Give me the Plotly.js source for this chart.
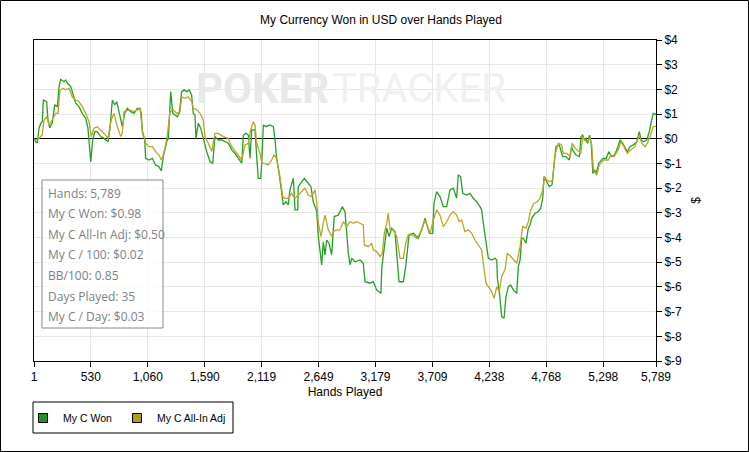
<!DOCTYPE html>
<html>
<head>
<meta charset="utf-8">
<script src="https://cdn.plot.ly/plotly-3.0.1.min.js"></script>
<style>html,body{margin:0;padding:0;background:#fff;}#chart{width:749px;height:452px;}</style>
</head>
<body>
<div id="chart"></div>
<script>
// ---- data ----
const handsWon = [1,17,32,48,66,78,88,119,131,147,171,194,218,234,249,280,296,311,343,367,389,420,450,482,503,529,547,566,590,622,652,690,708,730,752,771,792,808,823,845,869,901,932,962,987,999,1009,1031,1040,1071,1102,1133,1164,1186,1204,1236,1251,1273,1292,1313,1334,1353,1375,1397,1422,1446,1468,1483,1499,1508,1530,1552,1576,1608,1639,1664,1685,1716,1748,1778,1809,1841,1871,1902,1934,1949,1974,1995,2011,2027,2058,2073,2088,2111,2120,2135,2160,2197,2228,2244,2259,2284,2306,2321,2346,2367,2383,2414,2430,2455,2460,2516,2553,2578,2600,2632,2647,2662,2678,2693,2709,2725,2746,2771,2795,2833,2870,2895,2911,2926,2942,2957,2988,3035,3065,3081,3128,3158,3190,3230,3237,3267,3283,3305,3330,3360,3376,3398,3438,3460,3491,3531,3577,3609,3640,3680,3711,3723,3748,3779,3810,3841,3872,3903,3934,3949,3971,3990,4027,4058,4089,4120,4151,4167,4182,4198,4214,4229,4261,4291,4307,4313,4331,4338,4353,4375,4393,4415,4437,4461,4493,4508,4524,4539,4554,4579,4601,4617,4632,4663,4694,4716,4735,4747,4765,4796,4821,4842,4858,4889,4905,4920,4952,4982,5004,5013,5045,5076,5092,5107,5123,5139,5154,5170,5186,5201,5217,5233,5257,5295,5326,5350,5373,5404,5435,5454,5479,5500,5522,5547,5578,5609,5634,5650,5671,5703,5727,5749,5764,5789];
const wonUSD = [0,-0.12,-0.17,0.44,0.64,0.69,1.57,1.50,0.76,0.44,0.64,1.37,1.30,2.11,2.41,2.31,2.38,2.25,2.11,1.77,1.44,1.30,1.03,0.83,0.43,-0.93,-0.05,0.29,0.29,0.09,0.02,-0.12,0.43,1.57,1.37,1.50,1.10,0.89,0.49,1.03,1.23,1.10,1.03,1.23,1.23,1.03,0.29,-0.05,-0.79,-0.86,-0.79,-1.06,-1.13,-1.30,-0.72,-0.12,0.02,1.91,1.03,0.96,0.89,1.03,1.91,1.98,1.91,1.98,1.77,1.03,0.96,0.02,0.63,0.43,0.02,-0.52,-0.93,-0.99,0.09,-0.05,-0.05,-0.12,-0.18,-0.45,-0.59,-0.79,-0.99,0.15,0.22,0.15,-0.79,0.36,0.36,-0.72,-1.60,-1.60,-0.99,0.56,0.49,0.56,0.49,-0.05,-0.79,-1.47,-2.21,-2.68,-2.55,-2.68,-2.07,-1.60,-2.88,-2.88,-1.94,-1.60,-1.80,-1.94,-2.55,-2.95,-3.96,-4.64,-5.11,-4.17,-4.70,-4.10,-4.23,-4.70,-3.15,-3.09,-2.75,-2.95,-3.83,-4.64,-5.11,-4.84,-4.98,-4.91,-5.04,-5.79,-5.85,-5.79,-6.12,-6.26,-5.24,-4.23,-3.62,-3.96,-3.62,-3.76,-4.77,-5.79,-5.79,-5.18,-3.89,-3.83,-4.03,-3.69,-3.22,-3.83,-3.83,-2.61,-2.14,-2.34,-2.75,-2.75,-2.07,-2.00,-2.41,-1.47,-1.53,-2.21,-2.28,-2.21,-2.41,-2.55,-2.75,-2.88,-3.42,-3.96,-4.50,-4.84,-4.91,-4.84,-4.91,-5.65,-6.19,-6.53,-7.20,-7.27,-6.39,-5.99,-5.92,-6.12,-6.26,-5.18,-4.91,-4.03,-4.03,-4.23,-3.62,-3.49,-3.22,-3.02,-2.95,-2.81,-2.41,-1.53,-1.70,-1.94,-1.87,-0.86,-0.32,-0.25,-0.45,-0.72,-0.72,-0.86,-0.32,-0.45,-0.66,-0.72,0.09,0.15,-0.05,0.02,-0.18,0.15,-0.18,-1.40,-1.26,-1.40,-0.99,-0.79,-0.79,-0.52,-0.72,-0.66,-0.32,-0.05,-0.18,-0.32,-0.52,-0.32,-0.25,-0.12,0.29,-0.05,-0.12,-0.05,0.29,0.76,1.03,0.98];
const handsAdj = [1,17,48,78,94,119,141,171,203,224,243,274,296,327,357,389,420,450,482,513,534,559,590,622,652,690,720,745,776,808,823,838,885,932,962,987,1009,1040,1071,1102,1133,1164,1186,1204,1236,1267,1297,1329,1360,1375,1406,1437,1468,1483,1515,1546,1576,1592,1623,1655,1685,1716,1763,1809,1841,1887,1934,1964,1995,2017,2042,2058,2073,2104,2120,2141,2181,2213,2234,2259,2290,2315,2337,2367,2399,2430,2460,2492,2523,2553,2585,2616,2632,2647,2672,2693,2709,2740,2771,2786,2818,2848,2879,2911,2942,2972,3004,3035,3065,3075,3112,3143,3158,3190,3221,3242,3261,3283,3298,3314,3345,3376,3407,3438,3460,3484,3516,3562,3593,3624,3640,3686,3717,3748,3779,3810,3841,3872,3903,3934,3958,3981,4011,4042,4074,4104,4135,4167,4182,4207,4229,4260,4282,4307,4331,4353,4384,4405,4437,4468,4493,4524,4548,4579,4601,4623,4654,4685,4710,4735,4754,4772,4803,4827,4848,4880,4911,4926,4958,4989,5010,5035,5067,5089,5107,5138,5159,5175,5191,5206,5237,5262,5299,5345,5368,5398,5438,5461,5491,5522,5553,5593,5634,5656,5687,5709,5734,5764,5789];
const allInAdjUSD = [0,-0.05,0.02,0.15,0.76,0.89,0.56,0.76,1.03,1.03,1.98,2.04,1.98,2.04,1.70,1.57,1.50,1.30,1.03,0.69,0.09,0.43,0.49,0.36,0.22,0.02,0.76,1.03,0.49,0.09,0.22,1.10,1.17,1.10,1.17,1.23,0.36,-0.18,-0.32,-0.32,-0.52,-0.66,-0.86,-0.66,-0.05,1.10,1.17,1.03,1.10,1.70,1.64,1.70,1.50,1.23,1.17,1.03,0.76,0.09,-0.18,-0.52,0.22,0.22,0.09,0.02,-0.32,-0.59,-0.86,-0.25,-0.18,0.36,0.69,0.56,-0.18,-0.59,-0.99,-0.99,-1.06,-0.86,-0.66,-0.79,-1.53,-2.34,-2.41,-2.41,-2.21,-2.41,-2.28,-2.14,-2.00,-2.28,-2.34,-2.07,-2.61,-3.42,-3.96,-3.42,-3.09,-3.69,-3.96,-3.76,-3.69,-3.69,-3.36,-3.56,-3.36,-3.42,-3.36,-3.42,-3.49,-4.30,-4.37,-4.23,-4.50,-4.57,-4.77,-4.64,-3.83,-3.42,-3.02,-3.69,-3.69,-3.96,-4.84,-4.84,-4.23,-3.89,-3.89,-4.03,-3.83,-3.49,-3.29,-3.83,-3.29,-2.88,-3.09,-3.56,-3.36,-3.09,-2.95,-3.09,-3.36,-3.29,-3.76,-3.69,-3.83,-4.10,-4.30,-4.50,-5.04,-5.85,-5.99,-6.19,-6.46,-5.99,-6.19,-5.58,-5.31,-4.64,-4.77,-4.91,-5.04,-4.37,-3.56,-3.62,-3.36,-2.88,-2.61,-2.55,-2.41,-2.07,-1.53,-1.67,-1.74,-1.67,-0.66,-0.18,-0.25,-0.59,-0.59,-0.72,-0.18,-0.38,-0.52,-0.59,0.09,-0.12,-0.05,0.02,-0.25,-1.26,-1.47,-1.06,-0.86,-0.86,-0.66,-0.72,-0.45,-0.12,-0.32,-0.59,-0.45,-0.32,0.15,-0.18,-0.32,-0.18,0.09,0.49,0.50];

const seriesNames = ['My C Won', 'My C All-In Adj'];
const xTickVals = [1,530,1060,1590,2119,2649,3179,3709,4238,4768,5298,5789];
const xTickText = ['1','530','1,060','1,590','2,119','2,649','3,179','3,709','4,238','4,768','5,298','5,789'];
const yTickVals = [4,3,2,1,0,-1,-2,-3,-4,-5,-6,-7,-8,-9];
const yTickText = ['$4','$3','$2','$1','$0','$-1','$-2','$-3','$-4','$-5','$-6','$-7','$-8','$-9'];
const statsLines = ['Hands: 5,789','My C Won: $0.98','My C All-In Adj: $0.50','My C / 100: $0.02','BB/100: 0.85','Days Played: 35','My C / Day: $0.03'];

// ---- layout helpers (pixel -> paper) ----
const W = 749, H = 452, L = 34, R = 656, T = 40, B = 361;
const px = v => (v - L) / (R - L);
const py = v => (B - v) / (B - T);

const GREEN = '#23a023', OLIVE = '#bba526';

const traces = [
  {x: handsWon, y: wonUSD, type: 'scatter', mode: 'lines', name: seriesNames[0],
   line: {color: GREEN, width: 1.3}, showlegend: false},
  {x: handsAdj, y: allInAdjUSD, type: 'scatter', mode: 'lines', name: seriesNames[1],
   line: {color: OLIVE, width: 1.3}, showlegend: false},
  {x: [null], y: [null], type: 'scatter', mode: 'markers', name: seriesNames[0],
   marker: {symbol: 'square', size: 9, color: '#1e961e', line: {color: '#000', width: 1}}},
  {x: [null], y: [null], type: 'scatter', mode: 'markers', name: seriesNames[1],
   marker: {symbol: 'square', size: 9, color: '#a89d1c', line: {color: '#000', width: 1}}}
];

const annotations = [
  {xref: 'paper', yref: 'paper', x: px(331), y: py(88), xanchor: 'right', yanchor: 'middle',
   text: '<b>POKER</b>', showarrow: false, font: {family: 'Roboto', size: 42, color: '#e8e8e8'}},
  {xref: 'paper', yref: 'paper', x: px(331), y: py(88), xanchor: 'left', yanchor: 'middle',
   text: 'TRACKER', showarrow: false, font: {family: 'Roboto', size: 40, color: '#f0f0f0'}}
];
statsLines.forEach((s, i) => {
  annotations.push({xref: 'paper', yref: 'paper', x: px(46), y: py(193 + i * 20.6),
    xanchor: 'left', yanchor: 'middle', text: s, showarrow: false,
    font: {family: 'Open Sans', size: 12, color: '#808080'}});
});

const shapes = [
  {type: 'rect', xref: 'paper', yref: 'paper', x0: px(0.5), x1: px(748.5), y0: py(451.5), y1: py(0.5),
   line: {color: '#000', width: 1}, fillcolor: 'rgba(0,0,0,0)', layer: 'above'},
  {type: 'rect', xref: 'paper', yref: 'paper', x0: px(42), x1: px(163), y0: py(328), y1: py(180),
   line: {color: '#888', width: 1}, fillcolor: 'rgba(255,255,255,0.8)', layer: 'above'},
  {type: 'rect', xref: 'paper', yref: 'paper', x0: px(33), x1: px(233), y0: py(433), y1: py(402),
   line: {color: '#000', width: 1}, fillcolor: 'rgba(0,0,0,0)', layer: 'above'}
];

const layout = {
  width: W, height: H,
  margin: {l: L, r: W - R, t: T, b: H - B, pad: 0},
  paper_bgcolor: '#fff', plot_bgcolor: '#fff',
  font: {family: 'Liberation Sans, Arial, sans-serif', size: 12, color: '#000'},
  title: {text: 'My Currency Won in USD over Hands Played', xref: 'container', yref: 'container',
          x: 381 / W, xanchor: 'center', y: 1 - 20 / H, yanchor: 'middle',
          font: {family: 'Liberation Sans, Arial, sans-serif', size: 12, color: '#000'}},
  xaxis: {range: [1, 5789], tickmode: 'array', tickvals: xTickVals, ticktext: xTickText,
          ticks: 'outside', ticklen: 5, tickcolor: '#000', showline: true, linecolor: '#000', linewidth: 1,
          mirror: true, showgrid: true, gridcolor: '#e6e6e6', zeroline: false,
          tickfont: {size: 12}, title: {text: 'Hands Played', font: {size: 12}, standoff: 4}},
  yaxis: {range: [-9, 4], side: 'right', tickmode: 'array', tickvals: yTickVals, ticktext: yTickText,
          ticks: 'outside', ticklen: 5, tickcolor: '#000', showline: true, linecolor: '#000', linewidth: 1,
          mirror: true, showgrid: true, gridcolor: '#e6e6e6', zeroline: true, zerolinecolor: '#000',
          zerolinewidth: 1.2, tickfont: {size: 12}, title: {text: '$', font: {size: 12}, standoff: 10}},
  showlegend: true,
  legend: {orientation: 'h', x: px(23), xanchor: 'left', y: py(418), yanchor: 'middle',
           bgcolor: 'rgba(0,0,0,0)', borderwidth: 0, font: {size: 10.5}, itemclick: false},
  annotations: annotations,
  shapes: shapes,
  hovermode: false
};

Plotly.newPlot('chart', traces, layout, {staticPlot: true, displayModeBar: false});
</script>
</body>
</html>
